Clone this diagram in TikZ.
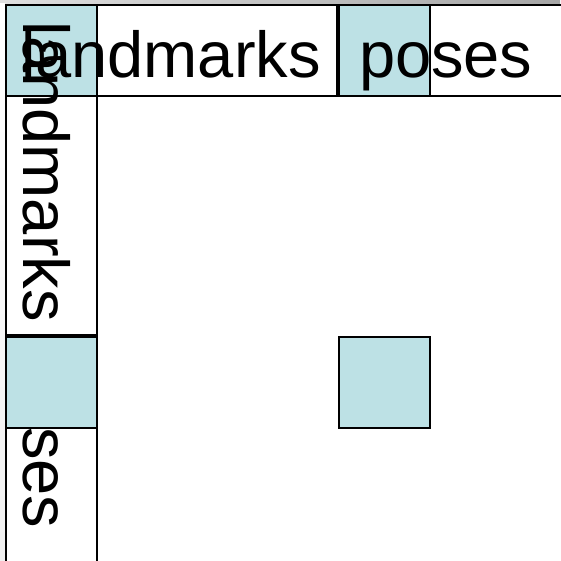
\documentclass[tikz,border=0pt]{standalone}
\usepackage{fontspec}
\setmainfont{Liberation Sans}
\definecolor{tealfill}{RGB}{189,225,229}
\tikzset{
  cell/.style={draw=black, line width=1.9pt, fill=white},
  tealcell/.style={draw=black, line width=1.9pt, fill=tealfill},
  bigtext/.style={inner sep=0pt, outer sep=0pt, anchor=base west, font=\fontsize{65}{70}\selectfont},
}
\begin{document}
\begin{tikzpicture}[x=1pt,y=-1pt]
\useasboundingbox (0,0) rectangle (560,561);
% top gray strip
\shade[left color=gray!25, right color=gray!70] (0,0) rectangle (560,4);
\shade[top color=white, bottom color=gray!12] (0,4) rectangle (5,561);
% top row
\draw[cell] (97,5) rectangle (337,96);
\draw[cell] (430,5) rectangle (562,96);
\draw[tealcell] (6,5) rectangle (97,96);
\draw[tealcell] (339,5) rectangle (430,96);
% left column
\draw[cell] (6,96) rectangle (97,335);
\draw[cell] (6,428) rectangle (97,563);
% center block
\draw[tealcell] (339,337) rectangle (430,428);
% texts
\node[bigtext] (toplandmarks) at (21,78) {landmarks};
\node[bigtext] (topposes) at (359,78) {poses};
\node[bigtext, rotate=-90] (leftlandmarks) at (23,22) {landmarks};
\node[bigtext, rotate=-90] (leftposes) at (23,355) {poses};
% left teal block covering part of the rotated text
\draw[tealcell] (6,337) rectangle (97,428);
\end{tikzpicture}
\end{document}
